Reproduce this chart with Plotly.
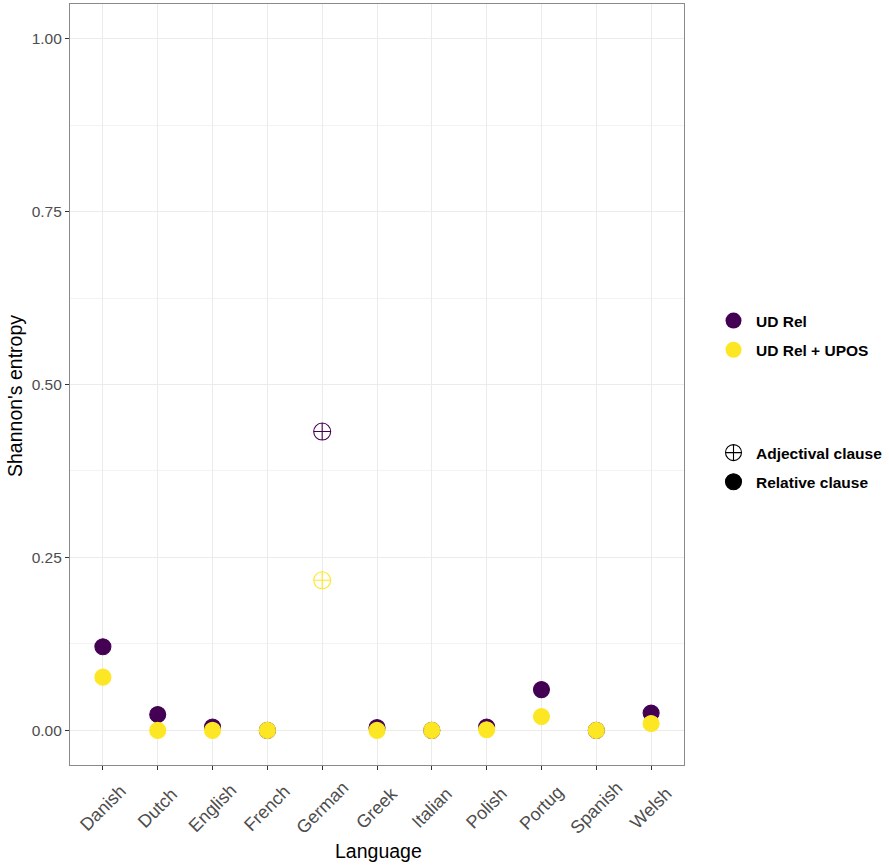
import plotly.graph_objects as go

languages = ["Danish", "Dutch", "English", "French", "German", "Greek",
             "Italian", "Polish", "Portug", "Spanish", "Welsh"]
ud_rel = [0.121, 0.023, 0.005, 0.0, 0.432, 0.004, 0.0, 0.005, 0.059, 0.0, 0.025]
ud_rel_upos = [0.077, 0.0, 0.0, 0.0, 0.217, 0.0, 0.0, 0.001, 0.020, 0.0, 0.010]
clause_type = ["Relative clause", "Relative clause", "Relative clause", "Relative clause",
               "Adjectival clause", "Relative clause", "Relative clause", "Relative clause",
               "Relative clause", "Relative clause", "Relative clause"]
y_ticks = [0, 0.25, 0.5, 0.75, 1.0]
y_tick_text = ["0.00", "0.25", "0.50", "0.75", "1.00"]

series = [("UD Rel", ud_rel, "#440154"), ("UD Rel + UPOS", ud_rel_upos, "#FDE725")]
shape_map = {"Adjectival clause": "circle-cross-open", "Relative clause": "circle"}

FONT = "Liberation Sans, Arial, Helvetica, sans-serif"
PL, PR, PT, PB = 70, 684, 4, 765  # plot panel edges in pixels
PW, PH = PR - PL, PB - PT


def px_x(p):
    return (p - PL) / PW


def px_y(p):
    return (PB - p) / PH


fig = go.Figure()
for name, vals, col in series:
    syms = [shape_map[c] for c in clause_type]
    sizes = [17 if c == "Adjectival clause" else 16 for c in clause_type]
    fig.add_trace(go.Scatter(
        x=languages, y=vals, mode="markers", showlegend=False,
        marker=dict(color=col, symbol=syms, size=sizes, opacity=1,
                    line=dict(color=col, width=1.1)),
    ))

# colour legend
for name, vals, col in series:
    fig.add_trace(go.Scatter(
        x=[None], y=[None], mode="markers", name=name, legend="legend",
        legendgroup=name,
        marker=dict(color=col, symbol="circle", size=17, opacity=1)))
# shape legend
for c in ["Adjectival clause", "Relative clause"]:
    fig.add_trace(go.Scatter(
        x=[None], y=[None], mode="markers", name=c, legend="legend2",
        legendgroup=c,
        marker=dict(color="black", symbol=shape_map[c], size=17, opacity=1,
                    line=dict(color="black", width=1.1))))

axis_common = dict(showline=True, linecolor="#8a8a8a", linewidth=1.2, mirror=True,
                   ticks="outside", ticklen=4, tickcolor="#333333",
                   gridcolor="#EBEBEB", gridwidth=1, zeroline=False)

# rotated x tick labels (centred on ticks, as in ggplot)
annotations = []
for lang in languages:
    annotations.append(dict(x=lang, xref="x", y=px_y(808), yref="paper", text=lang,
                            showarrow=False, textangle=-45, xanchor="center",
                            yanchor="middle",
                            font=dict(size=18, color="#4D4D4D", family=FONT)))
annotations.append(dict(x=px_x(378), xref="paper", y=px_y(851), yref="paper",
                        text="Language", showarrow=False, xanchor="center",
                        yanchor="middle", font=dict(size=19.5, color="#000000", family=FONT)))
annotations.append(dict(x=px_x(15), xref="paper", y=px_y(396), yref="paper",
                        text="Shannon's entropy", showarrow=False, xanchor="center",
                        yanchor="middle", textangle=-90,
                        font=dict(size=19.5, color="#000000", family=FONT)))

fig.update_layout(
    width=889, height=866,
    margin=dict(l=PL, r=889 - PR, t=PT, b=866 - PB, autoexpand=False),
    plot_bgcolor="white", paper_bgcolor="white",
    font=dict(family=FONT, color="#000000"),
    xaxis=dict(type="category", categoryorder="array", categoryarray=languages,
               range=[-0.6, 10.6], showticklabels=False,
               **axis_common),
    yaxis=dict(range=[-0.05, 1.05], tickvals=y_ticks, ticktext=y_tick_text,
               tickfont=dict(size=15.5, color="#4D4D4D"),
               minor=dict(tickvals=[0.125, 0.375, 0.625, 0.875], showgrid=True,
                          gridcolor="#F3F3F3", ticks=""),
               **axis_common),
    annotations=annotations,
    legend=dict(x=711 / 889, y=1 - 304 / 866, xref="container", yref="container",
                xanchor="left", yanchor="top", tracegroupgap=6, itemwidth=35,
                font=dict(size=15.5, color="#000000", weight="bold"),
                bgcolor="rgba(0,0,0,0)"),
    legend2=dict(x=711 / 889, y=1 - 436 / 866, xref="container", yref="container",
                 xanchor="left", yanchor="top", tracegroupgap=6, itemwidth=35,
                 font=dict(size=15.5, color="#000000", weight="bold"),
                 bgcolor="rgba(0,0,0,0)"),
)

fig.write_html("out.html", config={"displayModeBar": False},
               post_script="document.body.style.margin='0';document.body.style.overflow='hidden';")
